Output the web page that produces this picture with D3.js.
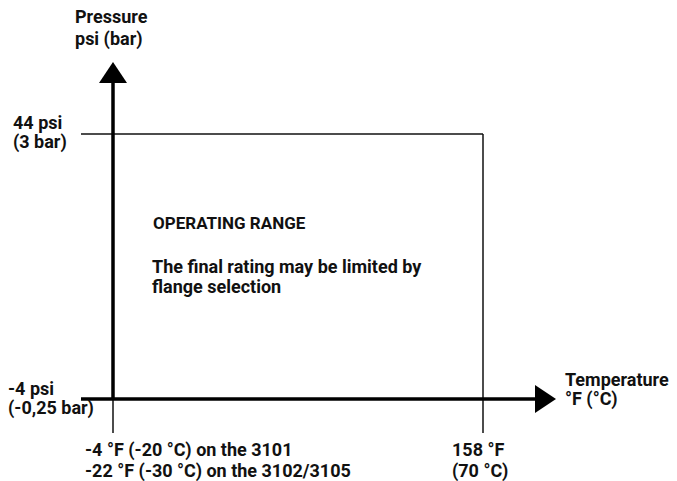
<!DOCTYPE html>
<html>
<head>
<meta charset="utf-8">
<script src="https://cdn.jsdelivr.net/npm/d3@7"></script>
<style>
  body { margin: 0; background: #fff; }
  text { font-family: Roboto, "Liberation Sans", sans-serif; font-weight: bold; fill: #111; }
</style>
</head>
<body>
<svg id="chart"></svg>
<script>
// operating window, in psi and deg F
const tempRange = [-4, 158];
const pressureRange = [-4, 44];
const tempLabels = [
  ["-4 °F (-20 °C) on the 3101", "-22 °F (-30 °C) on the 3102/3105"],
  ["158 °F", "(70 °C)"]
];
const pressureLabels = [
  ["-4 psi", "(-0,25 bar)"],
  ["44 psi", "(3 bar)"]
];
const innerText = ["OPERATING RANGE", "The final rating may be limited by", "flange selection"];

var width = 677, height = 481;
let svg = d3.select('#chart').attr("width", width).attr("height", height);

let x = d3.scaleLinear(tempRange, [113, 483]);
let y = d3.scaleLinear(pressureRange, [399, 134]);

// thin lines: top limit and right limit
svg.append("line")
  .attr("x1", 81).attr("x2", x(tempRange[1]))
  .attr("y1", y(pressureRange[1])).attr("y2", y(pressureRange[1]))
  .attr("stroke", "#111").attr("stroke-width", 1.5);
svg.append("line")
  .attr("x1", x(tempRange[1])).attr("x2", x(tempRange[1]))
  .attr("y1", y(pressureRange[1])).attr("y2", 433)
  .attr("stroke", "#111").attr("stroke-width", 1.5);
// tick below the y axis
svg.append("line")
  .attr("x1", x(tempRange[0])).attr("x2", x(tempRange[0]))
  .attr("y1", y(pressureRange[0])).attr("y2", 433)
  .attr("stroke", "#111").attr("stroke-width", 1.5);

// thick axes
svg.append("line")
  .attr("x1", x(tempRange[0])).attr("x2", x(tempRange[0]))
  .attr("y1", y(pressureRange[0])).attr("y2", 82)
  .attr("stroke", "#000").attr("stroke-width", 3.5);
svg.append("line")
  .attr("x1", 81).attr("x2", 537)
  .attr("y1", y(pressureRange[0])).attr("y2", y(pressureRange[0]))
  .attr("stroke", "#000").attr("stroke-width", 3.5);

// arrow heads
let x0 = x(tempRange[0]), y0 = y(pressureRange[0]);
svg.append("path")
  .attr("d", `M${x0 - 14},83 L${x0},62 L${x0 + 14},83 Z`)
  .attr("fill", "#000");
svg.append("path")
  .attr("d", `M535,${y0 - 14} L556,${y0} L535,${y0 + 14} Z`)
  .attr("fill", "#000");

function multi(lines, px, py, dy, size) {
  let t = svg.append("text").attr("x", px).attr("y", py).attr("font-size", size);
  lines.forEach((l, i) => {
    t.append("tspan").attr("x", px).attr("y", py + i * dy).text(l);
  });
  return t;
}

// axis titles
multi(["Pressure", "psi (bar)"], 75, 23, 22, 18);
multi(["Temperature", "°F (°C)"], 565, 386, 19, 18);

// pressure labels
multi(pressureLabels[1], 13, y(pressureRange[1]) - 5, 19, 18);
multi(pressureLabels[0], 8, y(pressureRange[0]) - 4, 19, 18);

// temperature labels
multi(tempLabels[0], 85, 456, 21, 18);
multi(tempLabels[1], 452, 456, 21, 18);

// text inside the range
multi(innerText.slice(0, 1), 153, 229, 20, 17);
multi(innerText.slice(1), 152, 273, 20, 18);
</script>
</body>
</html>
